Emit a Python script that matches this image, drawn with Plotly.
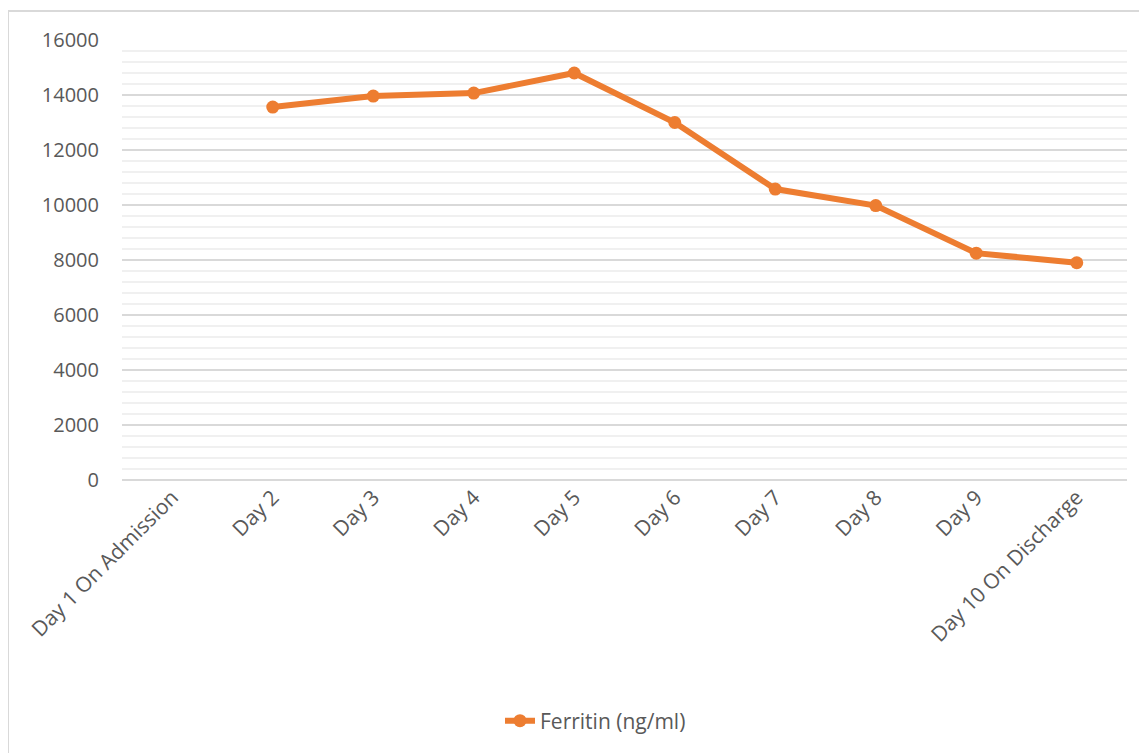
import plotly.graph_objects as go

categories = ["Day 1 On Admission", "Day 2", "Day 3", "Day 4", "Day 5", "Day 6",
              "Day 7", "Day 8", "Day 9", "Day 10 On Discharge"]
ferritin = [None, 13560, 13960, 14070, 14800, 13000, 10580, 9980, 8250, 7900]
series_name = "Ferritin (ng/ml)"
y_ticks = [0, 2000, 4000, 6000, 8000, 10000, 12000, 14000, 16000]

# page body adds an 8px offset; compensate so the plot lands where the reference is
OFF = 8
W, H = 1147 - OFF, 753 - OFF
L, R, T, B = 122 - OFF, 20, 40 - OFF, 273
pw, ph = W - L - R, H - T - B

def px_x(p):
    return (p - OFF - L) / pw

def px_y(p):
    return (H - B - (p - OFF)) / ph

fig = go.Figure()
fig.add_trace(go.Scatter(
    x=categories, y=ferritin, name=series_name, mode="lines+markers",
    line=dict(color="#ED7D31", width=6),
    marker=dict(color="#ED7D31", size=13),
    connectgaps=False,
))

font_family = "Open Sans, Liberation Sans, sans-serif"
fig.update_layout(
    width=W, height=H,
    margin=dict(l=L, r=R, t=T, b=B, autoexpand=False),
    paper_bgcolor="white", plot_bgcolor="white",
    showlegend=True,
    legend=dict(orientation="h", x=px_x(500), xanchor="left", y=px_y(721), yanchor="middle",
                font=dict(family=font_family, size=21, color="#595959"),
                itemwidth=30),
    xaxis=dict(type="category", categoryorder="array", categoryarray=categories,
               range=[-0.5, 9.5], tickangle=-45, showgrid=False,
               showline=False, ticks="", zeroline=False,
               tickfont=dict(family=font_family, size=21, color="#595959")),
    yaxis=dict(range=[0, 16000], tickvals=y_ticks, ticktext=[str(v) for v in y_ticks],
               showgrid=True, gridcolor="#D9D9D9", gridwidth=1.5,
               minor=dict(dtick=400, showgrid=True, gridcolor="#F0F0F0", gridwidth=1.5),
               zeroline=True, zerolinecolor="#D9D9D9", zerolinewidth=1.5,
               showline=False, ticks="",
               tickfont=dict(family=font_family, size=20, color="#595959"),
               ticklabelstandoff=22),
    shapes=[dict(type="rect", xref="paper", yref="paper",
                 x0=px_x(8), x1=px_x(1170), y0=px_y(790), y1=px_y(11),
                 line=dict(color="#D9D9D9", width=2), fillcolor="rgba(0,0,0,0)",
                 layer="below")],
)

fig.write_html("out.html")
